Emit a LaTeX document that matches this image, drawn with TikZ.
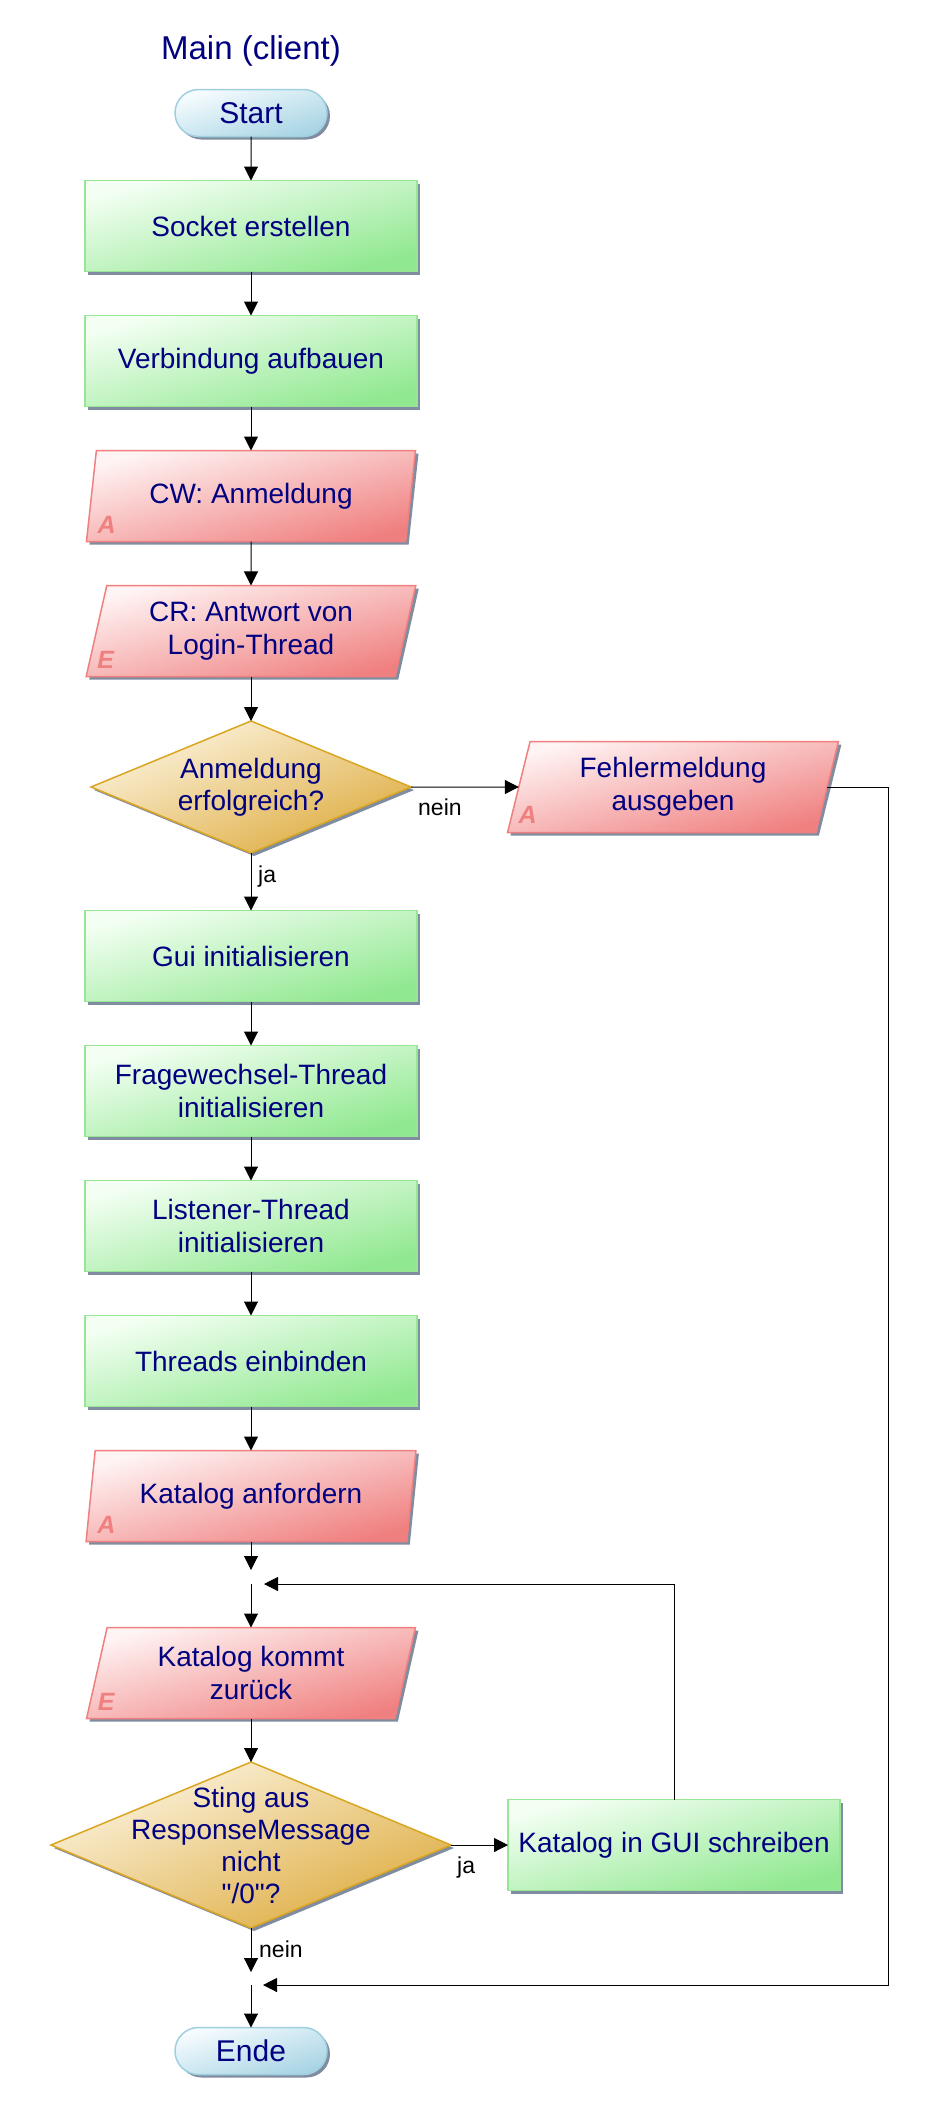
\documentclass[tikz,border=0pt]{standalone}
\usepackage{fontspec}
\setmainfont{Liberation Sans}
\newfontfamily\plainsans{Liberation Sans}
\usetikzlibrary{shapes.geometric,shapes.misc,arrows.meta,shadows}
\definecolor{navytxt}{RGB}{0,0,128}
\definecolor{grn}{RGB}{144,232,144}
\definecolor{grnlight}{RGB}{244,255,244}
\definecolor{grnline}{RGB}{150,230,150}
\definecolor{redc}{RGB}{240,128,128}
\definecolor{redlight}{RGB}{255,244,244}
\definecolor{goldline}{RGB}{218,165,32}
\definecolor{goldfill}{RGB}{222,172,64}
\definecolor{goldlight}{RGB}{252,244,224}
\definecolor{blu}{RGB}{168,212,228}
\definecolor{blulight}{RGB}{246,252,254}
\definecolor{bluline}{RGB}{160,208,224}
\definecolor{shad}{RGB}{128,140,160}
\tikzset{
  base/.style={draw, line width=1.5pt, text=navytxt, font=\fontsize{28}{33}\selectfont,
    align=center, inner sep=0pt, outer sep=0pt,
    drop shadow={shadow xshift=3pt, shadow yshift=-3pt, fill=shad, opacity=1}},
  procbox/.style={base, rectangle, draw=grnline, top color=grnlight, bottom color=grn,
    shading angle=15, minimum width=332pt, minimum height=91pt},
  iobox/.style={base, trapezium, trapezium left angle=76, trapezium right angle=104,
    trapezium stretches=true, draw=redc, top color=redlight, bottom color=redc,
    shading angle=15, minimum width=330pt, minimum height=91pt},
  decbox/.style={base, diamond, draw=goldline, top color=goldlight, bottom color=goldfill,
    shading angle=22},
  dectxt/.style={text=navytxt, font=\fontsize{28}{32}\selectfont, align=center, inner sep=0pt},
  termbox/.style={base, rounded rectangle, draw=bluline, top color=blulight, bottom color=blu,
    shading angle=17, minimum width=152pt, minimum height=47pt,
    font=\fontsize{30}{36}\selectfont},
  arr/.style={draw=black, line width=1pt, -{Triangle[length=14pt,width=14pt]}},
  lbl/.style={font=\fontsize{23}{27}\selectfont, text=black, inner sep=0pt},
  iolet/.style={font=\fontsize{25}{30}\selectfont\bfseries\itshape, text=redc, inner sep=0pt},
  titlestyle/.style={font=\fontsize{33}{40}\selectfont, text=navytxt, inner sep=0pt},
}
\begin{document}
\begin{tikzpicture}[x=1pt, y=-1pt]
\fill[white] (0,0) rectangle (933,2118);
\useasboundingbox (0,0) rectangle (933,2118);

\node[titlestyle, anchor=base] (title) at (251,59) {Main (client)};

\node[termbox] (start) at (251,113) {Start};
\node[procbox] (sock) at (251,226) {Socket erstellen};
\node[procbox] (verb) at (251,361) {Verbindung aufbauen};
\node[iobox] (cw) at (251,496) {CW: Anmeldung};
\node[iolet, anchor=base west] (cwA) at ([xshift=11pt,yshift=8pt]cw.bottom left corner) {A};
\node[iobox] (cr) at (251,631) {CR: Antwort von\\Login-Thread};
\node[iolet, anchor=base west] (crE) at ([xshift=11pt,yshift=8pt]cr.bottom left corner) {E};
\node[decbox, minimum width=320pt, minimum height=132pt] (d1) at (251,787) {};
\node[dectxt] (d1t) at (d1) {Anmeldung\\erfolgreich?};
\node[iobox, minimum width=331pt] (fehler) at (673,787) {Fehlermeldung\\ausgeben};
\node[iolet, anchor=base west] (fehA) at ([xshift=11pt,yshift=9pt]fehler.bottom left corner) {A};
\node[procbox] (gui) at (251,956) {Gui initialisieren};
\node[procbox] (frage) at (251,1091) {Fragewechsel-Thread\\initialisieren};
\node[procbox] (listen) at (251,1226) {Listener-Thread\\initialisieren};
\node[procbox] (threads) at (251,1361) {Threads einbinden};
\node[iobox] (katanf) at (251,1496) {Katalog anfordern};
\node[iolet, anchor=base west] (kaA) at ([xshift=11pt,yshift=8pt]katanf.bottom left corner) {A};
\coordinate (j1) at (251,1584);
\node[iobox] (katkommt) at (251,1673) {Katalog kommt\\zurück};
\node[iolet, anchor=base west] (kkE) at ([xshift=11pt,yshift=8pt]katkommt.bottom left corner) {E};
\node[decbox, minimum width=400pt, minimum height=166pt] (d2) at (251,1845) {};
\node[dectxt] (d2t) at (d2) {Sting aus\\ResponseMessage\\nicht\\{\plainsans"/0"?}};
\node[procbox] (katgui) at (674,1845) {Katalog in GUI schreiben};
\coordinate (j2) at (251,1985);
\coordinate (rc) at (888,1985);
\node[termbox] (ende) at (251,2051) {Ende};

% connectors
\draw[arr] (start) -- (sock);
\draw[arr] (sock) -- (verb);
\draw[arr] (verb) -- (cw);
\draw[arr] (cw) -- (cr);
\draw[arr] (cr) -- (d1.north);
\draw[arr] (d1.east) -- (fehler);
\node[lbl, anchor=base west] (lnein1) at ([xshift=7pt,yshift=-28pt]d1.east) {nein};
\draw[arr] (d1.south) -- (gui);
\node[lbl, anchor=base west] (lja1) at ([xshift=7pt,yshift=-29pt]d1.south) {ja};
\draw[arr] (gui) -- (frage);
\draw[arr] (frage) -- (listen);
\draw[arr] (listen) -- (threads);
\draw[arr] (threads) -- (katanf);
\draw[arr, shorten >=14pt] (katanf) -- (j1);
\draw[arr] (j1) -- (katkommt);
\draw[arr] (katkommt) -- (d2.north);
\draw[arr] (d2.east) -- (katgui.west);
\node[lbl, anchor=base west] (lja2) at ([xshift=6pt,yshift=-28pt]d2.east) {ja};
\draw[arr, shorten >=13pt] (katgui.north) |- (j1);
\draw[arr, shorten >=13pt] (d2.south) -- (j2);
\node[lbl, anchor=base west] (lnein2) at ([xshift=8pt,yshift=-29pt]d2.south) {nein};
\draw[arr] (j2) -- (ende);
\draw[arr, shorten >=12pt] (fehler.east) -| (rc) -- (j2);
\end{tikzpicture}
\end{document}
